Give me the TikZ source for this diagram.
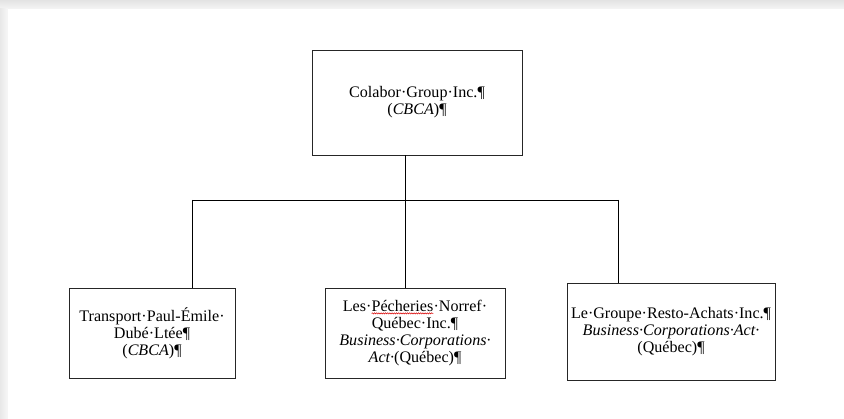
\documentclass[tikz,border=0pt]{standalone}
\usepackage{fontspec}
\setmainfont{Liberation Serif}
\usetikzlibrary{decorations.pathmorphing}
\newcommand{\wavyword}[1]{\tikz[baseline=(w.base),x=1pt,y=1pt]{\node[inner sep=0pt,outer sep=0pt,minimum width=0pt,minimum height=0pt,draw=none,fill=none](w){#1};\draw[red!85!black,line width=0.5pt,decorate,decoration={snake,amplitude=0.6pt,segment length=2.2pt}] ([yshift=-1.8pt]w.base west) -- ([yshift=-1.8pt]w.base east);}}
\begin{document}
\begin{tikzpicture}[x=1pt,y=-1pt,
  orgbox/.style={draw=black!85,line width=0.9pt,fill=white,align=center,inner sep=0pt,
    font=\fontsize{16.1}{16.9}\selectfont},
  link/.style={draw=black,line width=0.9pt}]
\useasboundingbox (0,0) rectangle (844,419);
% page shadow
\fill[black!9] (0,0) rectangle (844,419);
\shade[top color=black!11,bottom color=black!4] (0,0) rectangle (844,9);
\shade[left color=black!9,right color=black!3] (0,9) rectangle (8,419);
\fill[white] (8,9) rectangle (844,419);
% boxes
\node[orgbox,minimum width=210pt,minimum height=105pt] (top) at (417,102.5)
  {Colabor·Group·Inc.¶\\(\textit{CBCA})¶};
\node[orgbox,minimum width=166pt,minimum height=90pt] (left) at (152,333)
  {Transport·Paul-Émile·\\Dubé·Ltée¶\\(\textit{CBCA})¶};
\node[orgbox,minimum width=180pt,minimum height=90pt] (mid) at (415,333)
  {Les·\wavyword{Pécheries}·Norref·\\Québec·Inc.¶\\\textit{Business·Corporations·}\\\textit{Act·}(Québec)¶};
\node[orgbox,minimum width=208pt,minimum height=97pt] (right) at (671,331.5)
  {Le·Groupe·Resto-Achats·Inc.¶\\\textit{Business·Corporations·Act·}\\(Québec)¶};
% connectors
\coordinate (j) at (405,200);
\coordinate (hl) at (192,200);
\coordinate (hr) at (618,200);
\draw[link] (top.south -| j) -- (j);
\draw[link] (hl) -- (hr);
\draw[link] (hl) -- (hl |- left.north);
\draw[link] (j) -- (j |- mid.north);
\draw[link] (hr) -- (hr |- right.north);
\end{tikzpicture}
\end{document}
